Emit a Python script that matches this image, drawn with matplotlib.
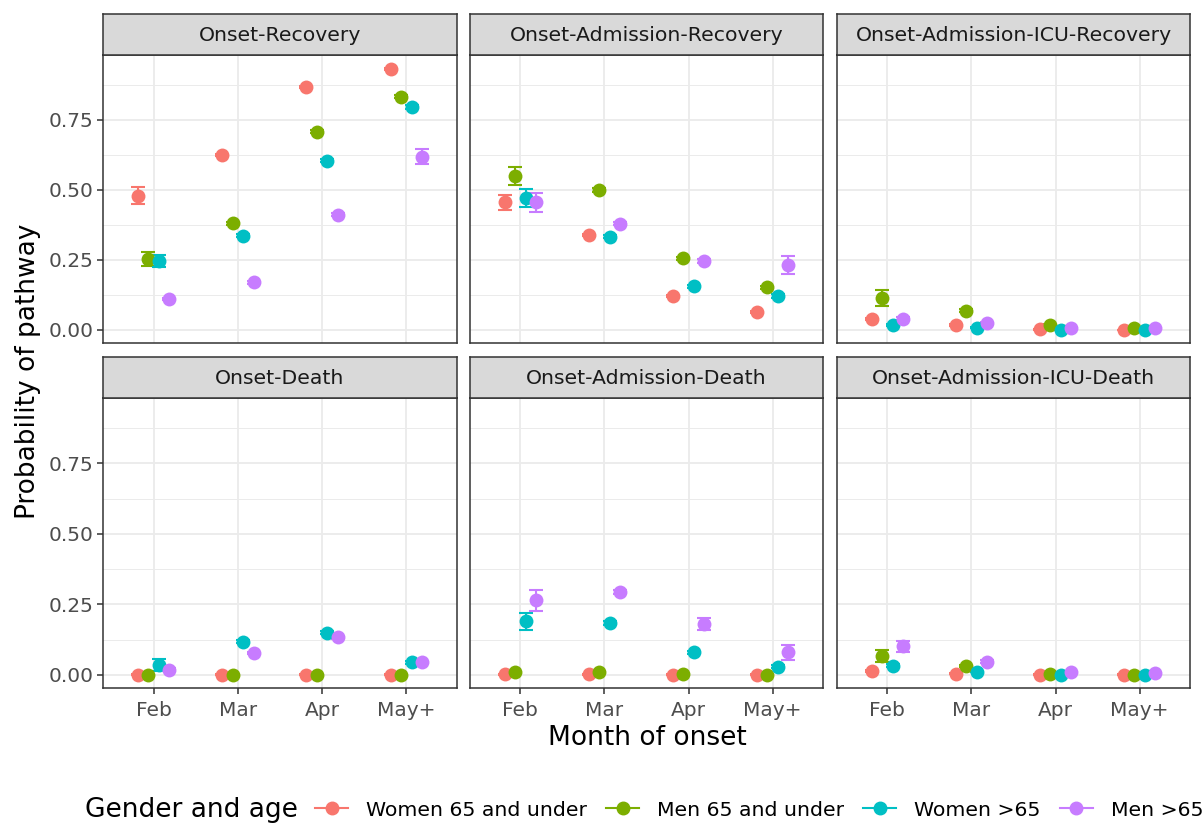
import matplotlib
matplotlib.use("Agg")
import matplotlib.pyplot as plt
import numpy as np
from matplotlib.lines import Line2D

months = ["Feb", "Mar", "Apr", "May+"]
groups = ["Women 65 and under", "Men 65 and under", "Women >65", "Men >65"]
colors = ["#F8766D", "#7CAE00", "#00BFC4", "#C77CFF"]
panel_titles = ["Onset-Recovery", "Onset-Admission-Recovery", "Onset-Admission-ICU-Recovery",
                "Onset-Death", "Onset-Admission-Death", "Onset-Admission-ICU-Death"]

# one row per group (Women<=65, Men<=65, Women>65, Men>65), one column per month
onset_recovery = [[0.480, 0.625, 0.869, 0.932],
                  [0.252, 0.381, 0.708, 0.833],
                  [0.246, 0.336, 0.605, 0.796],
                  [0.110, 0.170, 0.411, 0.619]]
onset_recovery_err = [[0.030, 0.005, 0.004, 0.003],
                      [0.025, 0.006, 0.005, 0.005],
                      [0.020, 0.006, 0.006, 0.006],
                      [0.005, 0.005, 0.006, 0.028]]

adm_recovery = [[0.455, 0.339, 0.121, 0.064],
                [0.550, 0.500, 0.255, 0.152],
                [0.470, 0.333, 0.156, 0.121],
                [0.456, 0.379, 0.246, 0.231]]
adm_recovery_err = [[0.028, 0.005, 0.004, 0.003],
                    [0.032, 0.006, 0.005, 0.006],
                    [0.032, 0.006, 0.006, 0.006],
                    [0.034, 0.006, 0.008, 0.032]]

icu_recovery = [[0.038, 0.018, 0.002, 0.000],
                [0.113, 0.068, 0.018, 0.008],
                [0.018, 0.008, 0.000, 0.000],
                [0.040, 0.023, 0.008, 0.006]]
icu_recovery_err = [[0.004, 0.003, 0.002, 0.001],
                    [0.028, 0.006, 0.004, 0.003],
                    [0.004, 0.003, 0.001, 0.001],
                    [0.006, 0.004, 0.003, 0.002]]

onset_death = [[0.000, 0.000, 0.000, 0.000],
               [0.000, 0.000, 0.000, 0.000],
               [0.035, 0.117, 0.149, 0.044],
               [0.018, 0.077, 0.133, 0.045]]
onset_death_err = [[0.001, 0.001, 0.001, 0.001],
                   [0.001, 0.001, 0.001, 0.001],
                   [0.021, 0.006, 0.006, 0.005],
                   [0.005, 0.005, 0.006, 0.005]]

adm_death = [[0.002, 0.002, 0.000, 0.000],
             [0.008, 0.011, 0.002, 0.000],
             [0.190, 0.183, 0.079, 0.029],
             [0.264, 0.294, 0.180, 0.080]]
adm_death_err = [[0.002, 0.002, 0.001, 0.001],
                 [0.003, 0.003, 0.002, 0.001],
                 [0.030, 0.006, 0.006, 0.005],
                 [0.038, 0.008, 0.021, 0.026]]

icu_death = [[0.014, 0.004, 0.000, 0.000],
             [0.068, 0.031, 0.003, 0.000],
             [0.032, 0.011, 0.000, 0.000],
             [0.101, 0.046, 0.010, 0.006]]
icu_death_err = [[0.004, 0.002, 0.001, 0.001],
                 [0.021, 0.005, 0.002, 0.001],
                 [0.005, 0.003, 0.001, 0.001],
                 [0.020, 0.005, 0.003, 0.002]]

panel_values = [onset_recovery, adm_recovery, icu_recovery, onset_death, adm_death, icu_death]
panel_errors = [onset_recovery_err, adm_recovery_err, icu_recovery_err,
                onset_death_err, adm_death_err, icu_death_err]

W, H = 1203, 825
fig = plt.figure(figsize=(W / 100, H / 100), dpi=100)


def px_axes(left, top, right, bottom):
    return fig.add_axes([left / W, 1 - bottom / H, (right - left) / W, (bottom - top) / H])


col_edges = [(103, 457), (470, 823), (837, 1190)]
row_edges = [(14, 55, 343), (357, 398, 688)]  # strip top, panel top, panel bottom

dodge = np.array([-0.1875, -0.0625, 0.0625, 0.1875])
x = np.arange(1, len(months) + 1)

for i, title in enumerate(panel_titles):
    r, c = divmod(i, 3)
    l, rt = col_edges[c]
    st, pt, pb = row_edges[r]
    ax = px_axes(l, pt, rt, pb)
    strip = px_axes(l, st, rt, pt)
    strip.set_facecolor("#D9D9D9")
    strip.set_xticks([])
    strip.set_yticks([])
    for s in strip.spines.values():
        s.set_color("#333333")
        s.set_linewidth(1.1)
    strip.text(0.5, 0.48, title, ha="center", va="center", fontsize=14.7, color="#1A1A1A",
               transform=strip.transAxes)

    vals = panel_values[i]
    errs = panel_errors[i]
    for g in range(len(groups)):
        ax.errorbar(x + dodge[g], vals[g], yerr=errs[g], fmt="none", ecolor=colors[g],
                    elinewidth=1.5, capsize=5, capthick=1.5, zorder=3)
    for g in range(len(groups)):
        ax.plot(x + dodge[g], vals[g], "o", color=colors[g], ms=10, mew=0, zorder=4)

    ax.set_xlim(0.4, 4.6)
    ax.set_ylim(-0.047, 0.982)
    ax.set_xticks(x)
    ax.set_yticks([0, 0.25, 0.5, 0.75])
    ax.set_yticks([0.125, 0.375, 0.625, 0.875], minor=True)
    ax.grid(True, which="major", color="#EBEBEB", lw=1.3, zorder=0)
    ax.grid(True, which="minor", axis="y", color="#EBEBEB", lw=0.7, zorder=0)
    ax.set_axisbelow(True)
    for s in ax.spines.values():
        s.set_color("#333333")
        s.set_linewidth(1.1)
    ax.tick_params(which="major", length=4, width=1.1, color="#333333",
                   labelsize=14.5, labelcolor="#4D4D4D", pad=3)
    ax.tick_params(axis="x", pad=5)
    ax.tick_params(which="minor", length=0)
    if r == 1:
        ax.set_xticklabels(months)
    else:
        ax.tick_params(axis="x", length=0, labelbottom=False)
    if c == 0:
        ax.set_yticklabels(["0.00", "0.25", "0.50", "0.75"])
    else:
        ax.tick_params(axis="y", length=0, labelleft=False)

fig.text(28 / W, 1 - 371 / H, "Probability of pathway", rotation=90, ha="center", va="center",
         fontsize=19, color="black")
fig.text(647 / W, 1 - 738 / H, "Month of onset", ha="center", va="center",
         fontsize=19, color="black")

fig.text(85 / W, 1 - 810 / H, "Gender and age", ha="left", va="center", fontsize=19)
handles = [Line2D([0], [0], color=col, marker="o", ms=9, lw=1.5) for col in colors]
fig.legend(handles, groups, loc="center left", bbox_to_anchor=(307 / W, 1 - 810 / H),
           ncol=4, frameon=False, fontsize=14.7, handlelength=1.62, handletextpad=0.88,
           columnspacing=0.93, borderaxespad=0)

fig.savefig("out.png", dpi=100)
